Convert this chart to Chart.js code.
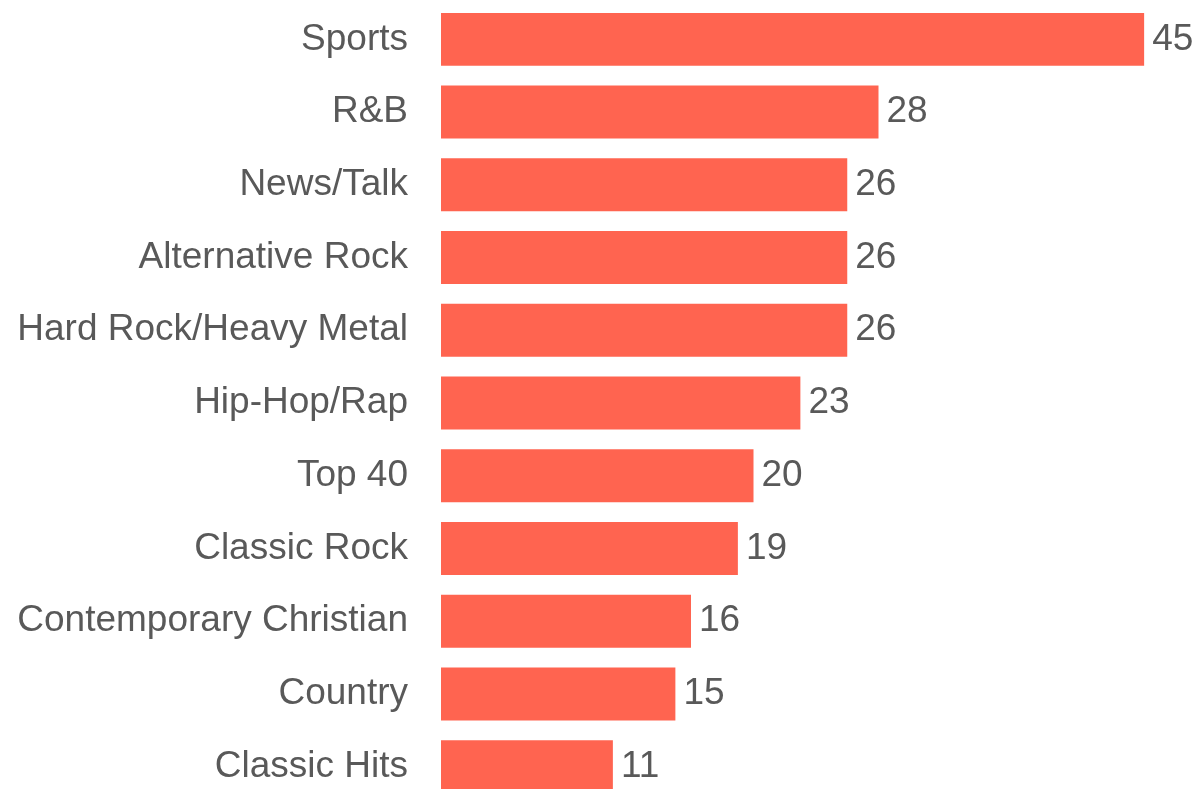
<!DOCTYPE html>
<html>
<head>
<meta charset="utf-8">
<script src="https://cdn.jsdelivr.net/npm/chart.js@4/dist/chart.umd.min.js"></script>
<style>
  html, body { margin: 0; padding: 0; background: #ffffff; overflow: hidden; }
  #frame { width: 1202px; height: 789px; overflow: hidden; position: relative; }
  #chart { position: absolute; left: 0; top: 0; }
</style>
</head>
<body>
<div id="frame"><canvas id="chart" width="1202" height="803"></canvas></div>
<script>
// Radio formats and their counts
const formats = [
  'Sports', 'R&B', 'News/Talk', 'Alternative Rock', 'Hard Rock/Heavy Metal',
  'Hip-Hop/Rap', 'Top 40', 'Classic Rock', 'Contemporary Christian',
  'Country', 'Classic Hits'
];
const counts = [45, 28, 26, 26, 26, 23, 20, 19, 16, 15, 11];

const BAR_COLOR = '#FF6450';
const TEXT_COLOR = '#595959';
const FONT_FAMILY = '"Liberation Sans", Arial, Helvetica, sans-serif';
const FONT_SIZE = 37;

// Writes each bar's value just past its end
const valueLabels = {
  id: 'valueLabels',
  afterDatasetsDraw(chart) {
    const ctx = chart.ctx;
    const meta = chart.getDatasetMeta(0);
    ctx.save();
    ctx.fillStyle = TEXT_COLOR;
    ctx.font = FONT_SIZE + 'px ' + FONT_FAMILY;
    ctx.textAlign = 'left';
    ctx.textBaseline = 'middle';
    meta.data.forEach((bar, i) => {
      ctx.fillText(String(counts[i]), bar.x + 8, bar.y);
    });
    ctx.restore();
  }
};

new Chart(document.getElementById('chart'), {
  type: 'bar',
  data: {
    labels: formats,
    datasets: [{
      data: counts,
      backgroundColor: BAR_COLOR,
      borderWidth: 0,
      categoryPercentage: 1,
      barPercentage: 0.728
    }]
  },
  options: {
    indexAxis: 'y',
    responsive: false,
    maintainAspectRatio: false,
    devicePixelRatio: 1,
    animation: false,
    layout: { padding: { top: 3, right: 11, bottom: 0, left: 0 } },
    plugins: {
      legend: { display: false },
      tooltip: { enabled: false }
    },
    scales: {
      x: {
        display: false,
        min: 0,
        max: 48
      },
      y: {
        grid: { display: false, drawTicks: false },
        border: { display: false },
        ticks: {
          color: TEXT_COLOR,
          font: { family: FONT_FAMILY, size: FONT_SIZE },
          padding: 33
        },
        afterFit(scale) {
          // fixed label column; no extra room above or below the bars
          scale.width = 441;
          scale.paddingTop = 0;
          scale.paddingBottom = 0;
        }
      }
    }
  },
  plugins: [valueLabels]
});
</script>
</body>
</html>
